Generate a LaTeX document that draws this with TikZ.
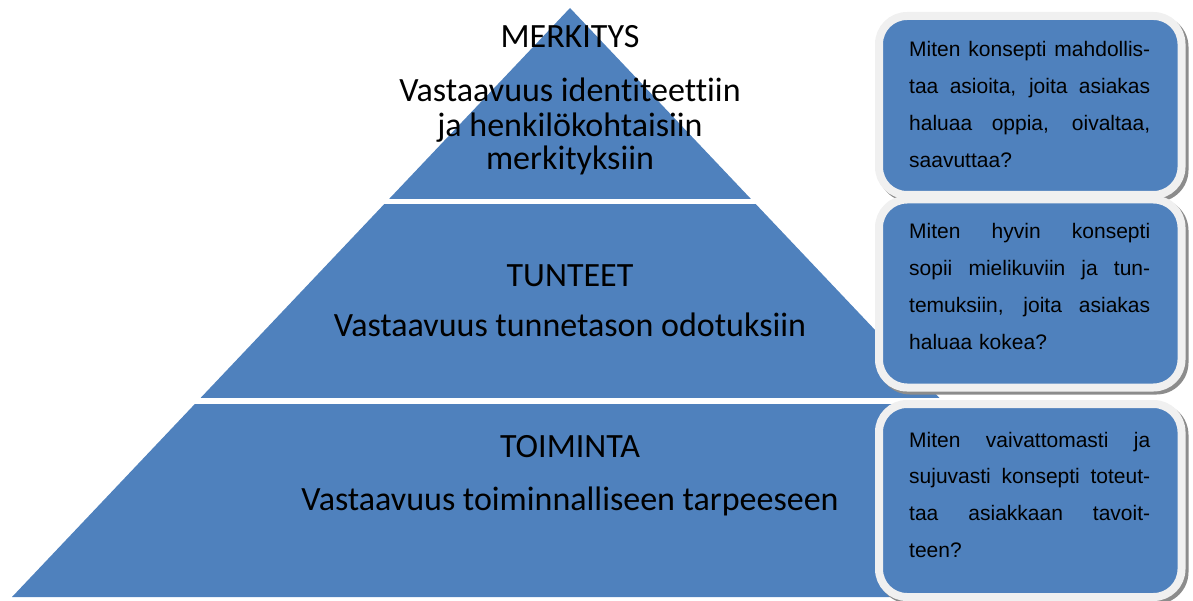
\documentclass[tikz,border=0pt]{standalone}
\usepackage{fontspec}
\setmainfont{Carlito}[Ligatures=NoCommon]
\newfontfamily\arialfont{Liberation Sans}
\definecolor{pyrblue}{HTML}{4F81BD}
\definecolor{rimgrey}{HTML}{F0F0F0}
\newcommand{\fullline}[1]{\leavevmode\hbox to 241pt{\spaceskip=\fontdimen2\font plus 1fil\relax #1}}
\begin{document}
\begin{tikzpicture}[x=1pt,y=-1pt,
  layertext/.style={anchor=base, inner sep=0pt, font=\fontsize{34}{34}\selectfont},
  qbox/.style={draw=rimgrey, line width=8pt, fill=pyrblue, rounded corners=28pt,
    inner sep=0pt, outer sep=0pt},
  qshadow/.style={fill=black!45, rounded corners=32pt},
  qtext/.style={anchor=base west, inner sep=0pt, text width=241pt, align=left,
    font=\arialfont\fontsize{21}{36.7}\selectfont}]
\useasboundingbox (0,0) rectangle (1193,601);
% pyramid
\fill[pyrblue] (570,8) -- (1128,597) -- (12,597) -- cycle;
\fill[white] (0,199) rectangle (1193,204.5);
\fill[white] (0,398) rectangle (1193,403.5);
% pyramid texts
\node[layertext] (t1) at (570,48) {MERKITYS};
\node[layertext] (t1a) at (570,102) {Vastaavuus identiteettiin};
\node[layertext] (t1b) at (570,137) {ja henkilökohtaisiin};
\node[layertext] (t1c) at (570,170) {merkityksiin};
\node[layertext] (t2) at (570,287) {TUNTEET};
\node[layertext] (t2a) at (570,337) {Vastaavuus tunnetason odotuksiin};
\node[layertext] (t3) at (570,457) {TOIMINTA};
\node[layertext] (t3a) at (570,510) {Vastaavuus toiminnalliseen tarpeeseen};
% question boxes with shadows
\fill[qshadow] (878,15) rectangle (1188.5,202);
\node[qbox, minimum width=302.5pt, minimum height=179pt] (q1) at (1030.25,105.5) {};
\fill[qshadow] (878,198.5) rectangle (1188.5,394.5);
\node[qbox, minimum width=302.5pt, minimum height=188pt] (q2) at (1030.25,293.5) {};
\fill[qshadow] (878,403) rectangle (1188.5,604);
\node[qbox, minimum width=302.5pt, minimum height=193pt] (q3) at (1030.25,500.5) {};
\node[qtext] (q1t) at (909,57) {\fullline{Miten konsepti mahdollis-}\\\fullline{taa asioita, joita asiakas}\\\fullline{haluaa oppia, oivaltaa,}\\saavuttaa?};
\node[qtext] (q2t) at (909,239) {\fullline{Miten hyvin konsepti}\\\fullline{sopii mielikuviin ja tun-}\\\fullline{temuksiin, joita asiakas}\\haluaa kokea?};
\node[qtext] (q3t) at (909,447) {\fullline{Miten vaivattomasti ja}\\\fullline{sujuvasti konsepti toteut-}\\\fullline{taa asiakkaan tavoit-}\\teen?};
\end{tikzpicture}
\end{document}
